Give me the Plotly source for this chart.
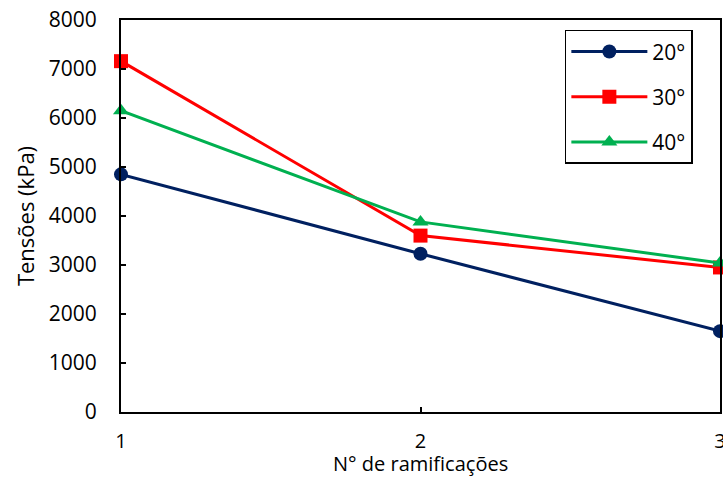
import plotly.graph_objects as go

x_vals = [1, 2, 3]
s20 = [4850, 3230, 1650]
s30 = [7160, 3600, 2950]
s40 = [6150, 3880, 3040]
names = ["20°", "30°", "40°"]
colors = ["#002060", "#FF0000", "#00B050"]
symbols = ["circle", "square", "triangle-up"]

fig = go.Figure()
for ys, nm, c, sym in zip([s20, s30, s40], names, colors, symbols):
    fig.add_trace(go.Scatter(
        x=x_vals, y=ys, name=nm, mode="lines+markers",
        line=dict(color=c, width=3),
        marker=dict(symbol=sym, size=14, color=c),
        cliponaxis=False, legendgroup=nm,
    ))

font_family = "Open Sans, DejaVu Sans, sans-serif"
fig.update_layout(
    width=723, height=479,
    margin=dict(l=121, r=3, t=20, b=67),
    plot_bgcolor="white", paper_bgcolor="white",
    font=dict(family=font_family, size=20, color="black"),
    showlegend=True,
    legend=dict(
        x=0.741, y=0.975, xanchor="left", yanchor="top",
        bordercolor="black", borderwidth=1.5, bgcolor="white",
        font=dict(size=21), tracegroupgap=15, traceorder="grouped",
        itemwidth=76,
    ),
    xaxis=dict(
        range=[1, 3], tickvals=[1, 2, 3], ticktext=["1", "2", "3"],
        showgrid=False, zeroline=False, showline=True, linecolor="black",
        linewidth=2, mirror=True, ticks="inside", ticklen=5, tickwidth=1.5,
        tickcolor="black", ticklabelstandoff=10, automargin=False,
        ticklabeloverflow="allow",
        tickfont=dict(size=20),
    ),
    yaxis=dict(
        range=[0, 8000], tickvals=list(range(0, 8001, 1000)),
        showgrid=False, zeroline=False, showline=True, linecolor="black",
        linewidth=2, mirror=True, ticks="inside", ticklen=5, tickwidth=1.5,
        tickcolor="black", ticklabelstandoff=18, automargin=False,
        tickfont=dict(size=21),
        title=dict(text="Tensões (kPa)", font=dict(size=22), standoff=8),
    ),
    annotations=[dict(
        text="N° de ramificações", xref="paper", yref="paper",
        x=0.5, y=0, yshift=-67, xanchor="center", yanchor="bottom",
        showarrow=False, font=dict(size=20),
    )],
)
fig.write_html("out.html")
